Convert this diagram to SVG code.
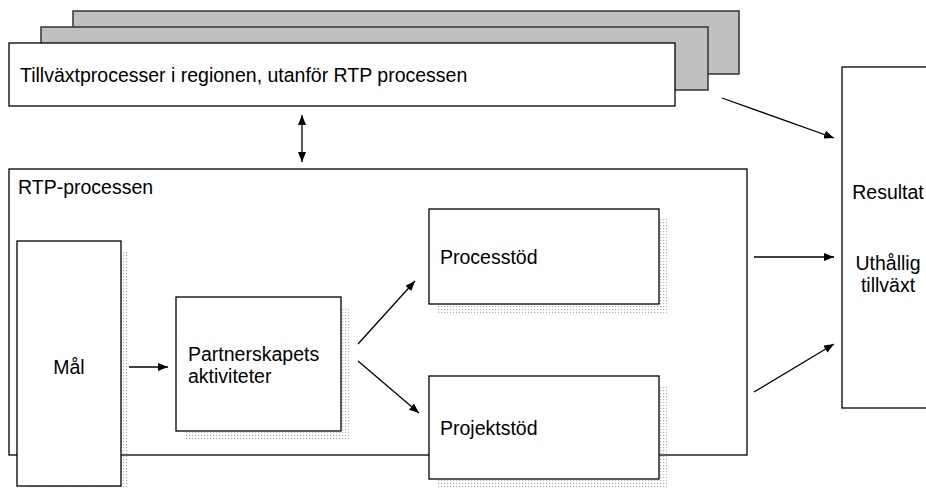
<svg xmlns="http://www.w3.org/2000/svg" width="926" height="488" viewBox="0 0 926 488">
<style>
.box{fill:#fff;stroke:#000;stroke-width:1.3}
.sheet{fill:#c0c0c0;stroke:#333;stroke-width:1.5}
.shadow{fill:url(#dots)}
.t{font-family:"Liberation Sans",Arial,sans-serif;font-size:19.5px;fill:#000}
.c{text-anchor:middle}
.ln{stroke:#000;stroke-width:1.3;fill:none}
</style>
<defs>
<pattern id="dots" width="3" height="3" patternUnits="userSpaceOnUse">
<rect x="0" y="0" width="1.2" height="1.2" fill="#b0b0b0"/>
</pattern>
<marker id="ah" viewBox="0 0 10 8" refX="10" refY="4" markerWidth="10" markerHeight="8" markerUnits="userSpaceOnUse" orient="auto-start-reverse">
<path d="M0,0 L10,4 L0,8 Z" fill="#000"/>
</marker>
</defs>

<g id="sheets">
<rect class="sheet" x="73" y="11" width="666" height="63"/>
<rect class="sheet" x="41" y="27" width="667" height="63"/>
</g>
<g id="tillvaxt">
<rect class="box" x="9" y="43" width="666" height="63"/>
<text class="t" x="20" y="82">Tillväxtprocesser i regionen, utanför RTP processen</text>
</g>

<g id="rtp">
<rect class="box" x="9" y="169" width="738" height="286"/>
<text class="t" x="18" y="194">RTP-processen</text>
</g>

<g id="mal">
<rect class="shadow" x="25" y="251" width="104" height="245"/>
<rect class="box" x="17" y="241" width="104" height="245"/>
<text class="t c" x="69" y="374">Mål</text>
</g>

<g id="partnerskap">
<rect class="shadow" x="184" y="307" width="165" height="134"/>
<rect class="box" x="176" y="297" width="165" height="134"/>
<text class="t" x="188" y="361">Partnerskapets</text>
<text class="t" x="188" y="383">aktiviteter</text>
</g>

<g id="processtod">
<rect class="shadow" x="437" y="219" width="230" height="95"/>
<rect class="box" x="429" y="209" width="230" height="95"/>
<text class="t" x="440" y="264">Processtöd</text>
</g>

<g id="projektstod">
<rect class="shadow" x="437" y="386" width="230" height="103"/>
<rect class="box" x="429" y="376" width="230" height="103"/>
<text class="t" x="440" y="435">Projektstöd</text>
</g>

<g id="resultat">
<rect class="box" x="842" y="67" width="100" height="341"/>
<text class="t c" x="888" y="199">Resultat</text>
<text class="t c" x="888" y="270">Uthållig</text>
<text class="t c" x="888" y="292">tillväxt</text>
</g>

<g id="connectors">
<line class="ln" x1="302" y1="115" x2="302" y2="162" marker-start="url(#ah)" marker-end="url(#ah)"/>
<line class="ln" x1="129" y1="367" x2="168" y2="367" marker-end="url(#ah)"/>
<line class="ln" x1="358" y1="344" x2="415" y2="281" marker-end="url(#ah)"/>
<line class="ln" x1="358" y1="361" x2="419" y2="413" marker-end="url(#ah)"/>
<line class="ln" x1="722" y1="98" x2="834" y2="138" marker-end="url(#ah)"/>
<line class="ln" x1="754" y1="257" x2="834" y2="257" marker-end="url(#ah)"/>
<line class="ln" x1="754" y1="392" x2="834" y2="344" marker-end="url(#ah)"/>
</g>
</svg>
